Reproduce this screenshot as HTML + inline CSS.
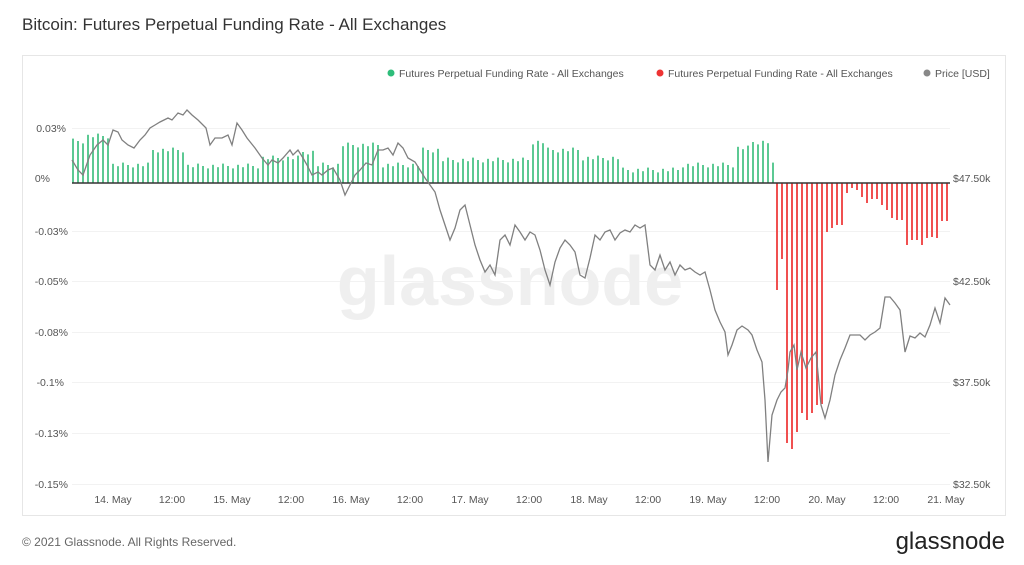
<!DOCTYPE html>
<html><head><meta charset="utf-8"><style>
body{margin:0;background:#fff;width:1024px;height:560px;overflow:hidden;font-family:"Liberation Sans",sans-serif}
</style></head><body>
<svg id="s" width="1024" height="560" xmlns="http://www.w3.org/2000/svg" font-family="Liberation Sans, sans-serif">
<text x="22" y="30" font-size="17" fill="#333">Bitcoin: Futures Perpetual Funding Rate - All Exchanges</text>
<rect x="22.5" y="55.5" width="983" height="460" fill="#fff" stroke="#e6e6e6"/>
<g stroke="#f2f2f2" stroke-width="1">
<line x1="72" x2="950" y1="128.5" y2="128.5"/><line x1="72" x2="950" y1="231.5" y2="231.5"/>
<line x1="72" x2="950" y1="281.5" y2="281.5"/><line x1="72" x2="950" y1="332.5" y2="332.5"/>
<line x1="72" x2="950" y1="382.5" y2="382.5"/><line x1="72" x2="950" y1="433.5" y2="433.5"/>
<line x1="72" x2="950" y1="484.5" y2="484.5"/>
</g>
<text x="510" y="305" font-size="70" fill="#efefef" text-anchor="middle" font-weight="bold">glassnode</text>
<g font-size="10.5" fill="#555">
<circle cx="391" cy="73" r="3.5" fill="#2ebd7a"/><text x="399" y="77">Futures Perpetual Funding Rate - All Exchanges</text>
<circle cx="660" cy="73" r="3.5" fill="#ee3333"/><text x="668" y="77">Futures Perpetual Funding Rate - All Exchanges</text>
<circle cx="927" cy="73" r="3.5" fill="#888"/><text x="935" y="77">Price [USD]</text>
</g>
<g font-size="10.5" fill="#555" text-anchor="end">
<text x="66" y="132">0.03%</text><text x="50" y="182">0%</text><text x="68" y="235">-0.03%</text>
<text x="68" y="285">-0.05%</text><text x="68" y="336">-0.08%</text><text x="64" y="386">-0.1%</text>
<text x="68" y="437">-0.13%</text><text x="68" y="488">-0.15%</text>
</g>
<g font-size="10.5" fill="#555">
<text x="953" y="182">$47.50k</text><text x="953" y="285">$42.50k</text>
<text x="953" y="386">$37.50k</text><text x="953" y="488">$32.50k</text>
</g>
<g font-size="10.5" fill="#555" text-anchor="middle">
<text x="113" y="503">14. May</text><text x="172" y="503">12:00</text>
<text x="232" y="503">15. May</text><text x="291" y="503">12:00</text>
<text x="351" y="503">16. May</text><text x="410" y="503">12:00</text>
<text x="470" y="503">17. May</text><text x="529" y="503">12:00</text>
<text x="589" y="503">18. May</text><text x="648" y="503">12:00</text>
<text x="708" y="503">19. May</text><text x="767" y="503">12:00</text>
<text x="827" y="503">20. May</text><text x="886" y="503">12:00</text>
<text x="946" y="503">21. May</text>
</g>
<g id="bars"></g>
<line x1="72" x2="950" y1="183" y2="183" stroke="#333" stroke-width="1.5"/>
<polyline id="price" fill="none" stroke="#808080" stroke-width="1.3"/>
<text x="22" y="546" font-size="12" fill="#666">© 2021 Glassnode. All Rights Reserved.</text>
<text x="1005" y="549" font-size="24" fill="#222" text-anchor="end">glassnode</text>
</svg>
<script>
var G=[[72,141],[87,136],[108,165],[150,150],[185,166],[260,158],[300,152],[315,165],[340,145],[380,165],[420,150],[440,160],[530,142],[545,150],[580,158],[620,170],[680,165],[735,148],[750,142],[771,165]];
var R=[[776,290],[781,259],[786,443],[791,449],[796,432],[801,413],[806,420],[811,413],[816,405],[821,404],[826,232],[831,228],[836,225],[841,225],[846,193],[851,188],[856,190],[861,197],[866,203],[871,199],[876,199],[881,205],[886,210],[891,218],[896,220],[901,220],[906,245],[911,240],[916,240],[921,245],[926,238],[931,237],[936,238],[941,221],[946,221]];
function interp(a,x){var v=a[0][1];for(var i=0;i<a.length;i++){if(a[i][0]<=x)v=a[i][1];}return v;}
var h='';var k=0;
for(var x=72;x<=772;x+=5){var t=interp(G,x)+((k*7)%5-2)*1.2;k++;h+='<rect x="'+x.toFixed(1)+'" y="'+t.toFixed(1)+'" width="2" height="'+(183-t).toFixed(1)+'" fill="#5cc993"/>';}
for(var x=776;x<=948;x+=5){var t=interp(R,x+1);h+='<rect x="'+x.toFixed(1)+'" y="183" width="2" height="'+(t-183)+'" fill="#f05050"/>';}
document.getElementById('bars').innerHTML=h;
var P=[[72,160],[78,170],[83,175],[90,155],[97,145],[103,140],[108,145],[113,130],[118,132],[122,140],[128,145],[134,148],[140,140],[145,135],[150,128],[155,125],[160,122],[168,118],[172,120],[178,113],[183,115],[187,110],[192,115],[198,120],[206,128],[210,145],[215,138],[222,138],[228,135],[232,145],[237,123],[242,130],[247,138],[255,148],[262,158],[268,165],[272,160],[278,163],[283,158],[290,150],[293,155],[298,150],[303,158],[307,165],[312,175],[318,172],[322,175],[328,170],[333,168],[340,180],[345,195],[350,185],[355,175],[360,170],[366,163],[372,165],[378,150],[383,150],[388,148],[393,155],[398,143],[403,148],[408,158],[415,162],[420,170],[425,178],[430,185],[435,192],[440,210],[445,225],[450,240],[455,228],[460,210],[465,205],[470,225],[475,245],[480,260],[485,272],[490,265],[495,275],[500,240],[505,235],[510,245],[515,225],[520,232],[525,240],[530,232],[535,235],[540,250],[545,270],[550,285],[555,262],[560,248],[565,240],[570,245],[575,252],[580,275],[585,278],[590,258],[595,235],[600,240],[605,232],[610,230],[615,240],[620,233],[625,230],[630,232],[635,225],[640,228],[645,225],[650,265],[655,270],[660,255],[665,270],[670,262],[675,275],[680,265],[685,270],[690,268],[695,272],[700,275],[705,272],[710,290],[715,310],[720,322],[725,332],[728,355],[732,345],[737,330],[742,326],[748,330],[752,335],[757,350],[762,362],[765,400],[768,462],[772,415],[777,400],[781,392],[785,388],[788,370],[790,352],[794,345],[797,370],[801,352],[806,368],[811,358],[816,352],[821,405],[825,418],[830,400],[835,375],[840,360],[845,348],[850,335],[855,335],[860,335],[865,340],[870,335],[875,332],[880,328],[885,297],[890,297],[895,303],[900,310],[905,352],[910,336],[915,338],[920,333],[925,337],[930,325],[935,308],[940,323],[945,298],[950,305]];
document.getElementById('price').setAttribute('points',P.map(function(p){return p.join(',')}).join(' '));
</script>
</body></html>
